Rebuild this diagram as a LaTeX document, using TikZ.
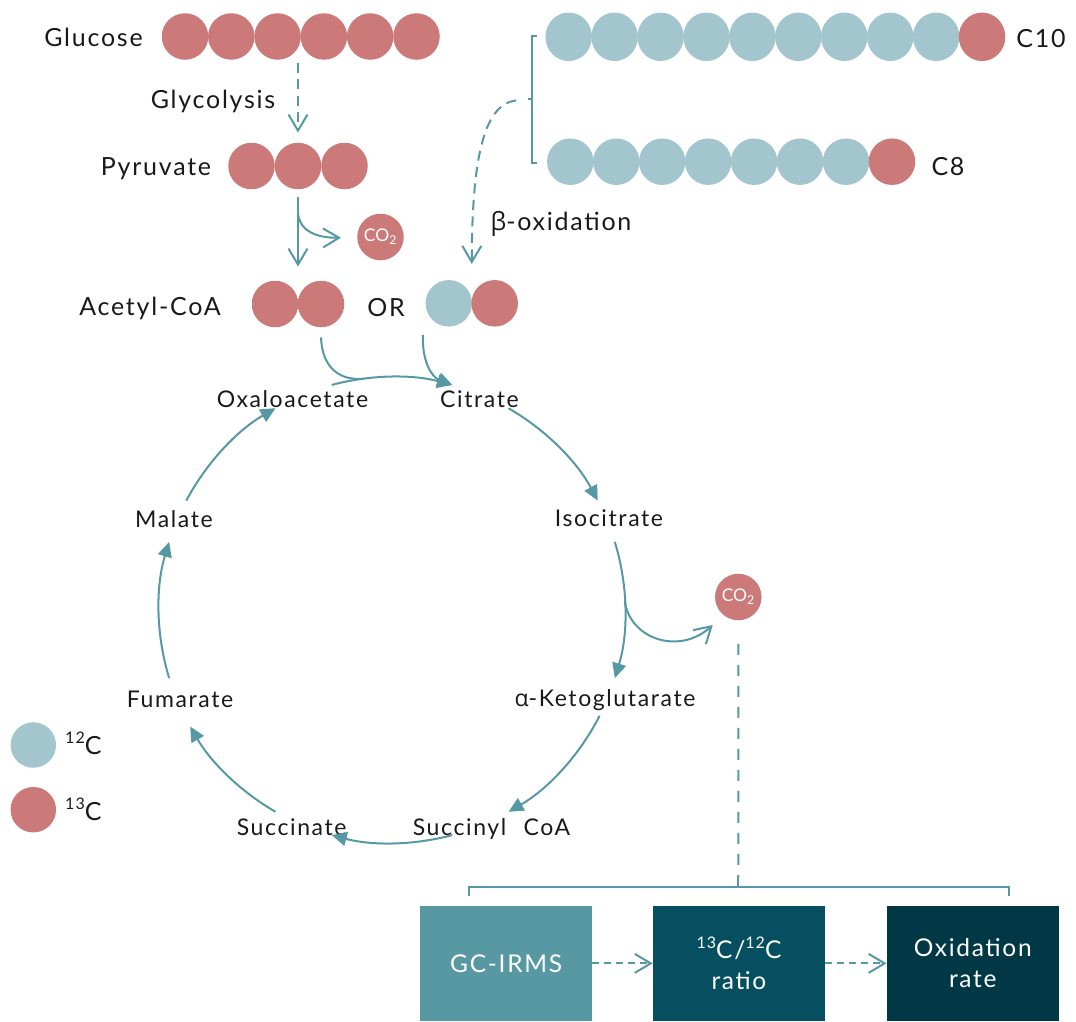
\documentclass[tikz,border=0pt]{standalone}
\usepackage{fontspec}
\setmainfont{Lato}[LetterSpace=7]
\newfontfamily\plainf{Lato}
\newfontfamily\grkf{Open Sans}[LetterSpace=5]
\usetikzlibrary{arrows.meta,shapes.geometric,calc}
\definecolor{atomred}{RGB}{204,121,121}
\definecolor{atomblue}{RGB}{163,197,205}
\definecolor{linec}{RGB}{86,153,164}
\definecolor{boxa}{RGB}{87,152,163}
\definecolor{boxb}{RGB}{5,79,96}
\definecolor{boxc}{RGB}{0,57,69}
\definecolor{txtc}{RGB}{25,25,25}
\newcommand\fbig{\fontsize{25}{30}\selectfont}
\newcommand\fcyc{\fontsize{23}{28}\selectfont}
\newcommand\fbx{\fontsize{24.5}{31}\selectfont}
\newcommand\supnum[1]{\raisebox{0.42em}{\fontsize{16}{16}\selectfont #1}}
\begin{document}
\begin{tikzpicture}[x=1pt,y=-1pt,
  redatom/.style={circle,fill=atomred,minimum size=46.5pt,inner sep=0pt},
  blueatom/.style={circle,fill=atomblue,minimum size=46.5pt,inner sep=0pt},
  tallatom/.style={ellipse,minimum width=46.5pt,minimum height=48.5pt},
  lbl/.style={font=\fbig,text=txtc,inner sep=0pt,anchor=base},
  cyc/.style={font=\fcyc,text=txtc,inner sep=0pt,anchor=base},
  flow/.style={draw=linec,line width=2pt},
  dshA/.style={dash pattern=on 10pt off 6.5pt},
  dshB/.style={dash pattern=on 11pt off 10pt},
  dshC/.style={dash pattern=on 7pt off 5pt},
  barb/.style={-{Straight Barb[length=16pt,width=19pt]}},
  tri/.style={-{Triangle[length=15pt,width=14pt]}},
  procbox/.style={minimum width=172pt,minimum height=115.3pt,inner sep=0pt,text=white,font=\fbx,align=center},
  co2/.style={redatom,text=white,font=\plainf\fontsize{17.5}{17.5}\selectfont}]
\useasboundingbox (0,0) rectangle (1076,1021);
\coordinate (cc) at (392,610);

% ---- atoms
\foreach \i in {0,...,5} \node[redatom] (g\i) at ({185+46.3*\i},36.5) {};
\foreach \i in {0,1,2} \node[redatom] (py\i) at ({251.5+46.5*\i},166) {};
\node[redatom] (ac0) at (275,304) {};
\node[redatom] (ac1) at (321,304) {};
\node[blueatom] (bp0) at (448.8,303.3) {};
\node[redatom] (bp1) at (494.7,303.3) {};
\foreach \i in {0,...,8} \node[blueatom,tallatom] (ca\i) at ({568.7+45.93*\i},36.8) {};
\node[redatom,tallatom] (ca9) at ({568.7+45.93*9},36.8) {};
\foreach \i in {0,...,6} \node[blueatom] (cb\i) at ({570.3+45.96*\i},161.7) {};
\node[redatom] (cb7) at ({570.3+45.96*7},161.7) {};
\node[co2] (co2a) at (380.5,237) {CO\textsubscript{2}};
\node[co2] (co2b) at (738.3,597) {CO\textsubscript{2}};
\node[blueatom,minimum size=45.5pt] (leg12) at (33.3,745) {};
\node[redatom,minimum size=45.5pt] (leg13) at (33.3,809.7) {};

% ---- labels
\node[lbl] (tglu) at (93.5,46.7) {Glucose};
\node[lbl] (tgly) at (213,108.3) {Glycolysis};
\node[lbl] (tpyr) at (156,175.7) {Pyruvate};
\node[lbl] (tacc) at (150,315) {Acetyl-CoA};
\node[lbl] (tor) at (386,316) {OR};
\node[lbl] (tbox) at (561,230) {{\grkf β}-oxidation};
\node[lbl] (tc10) at (1041,47.3) {C10};
\node[lbl] (tc8) at (948,175) {C8};
\node[cyc] (oxa) at (292.5,407.7) {Oxaloacetate};
\node[cyc] (cit) at (479.5,407.7) {Citrate};
\node[cyc] (iso) at (609,526.7) {Isocitrate};
\node[cyc] (akg) at (605,706) {{\grkf α}-Ketoglutarate};
\node[cyc] (sco) at (491.5,835) {Succinyl\hspace{0.75em}CoA};
\node[cyc] (suc) at (291.7,835) {Succinate};
\node[cyc] (fum) at (180,707) {Fumarate};
\node[cyc] (mal) at (174,527.3) {Malate};
\node[lbl,anchor=base west] (t12) at (65,754.3) {\supnum{12}C};
\node[lbl,anchor=base west] (t13) at (65,820) {\supnum{13}C};

% ---- top arrows
\draw[flow,dshA,barb,shorten <=3pt,shorten >=10pt] (py1 |- g0.south) -- (py1.north);
\draw[flow,barb,shorten <=8pt,shorten >=14pt] (py1.south) -- (py1 |- ac0.north);
\path (py1.south) ++(0,24) coordinate (brP);
\coordinate (co2aTip) at ($(co2a)+(-39.5,0.7)$);
\draw[flow,barb] (brP) .. controls (300,232) and (318,238) .. (co2aTip);

% bracket for fatty acids
\draw[flow] (536.7,35.7) -- (532.3,35.7) -- (532.3,163.3) -- (536.7,163.3);
\draw[flow] (532.3,99.3) -- (528,99.3) coordinate (brkM);
\coordinate (bpTop) at ($(bp0.north)!.5!(bp1.north)+(0,-16)$);
\draw[flow,dshA,barb,shorten <=12pt] (brkM) .. controls (482,104) and (472,165) .. (bpTop);

% ---- TCA cycle
\foreach \a/\b in {-105/-75,-60/-28,-17/17,27/60,75/105,120/150,163/197,208/240}
  \draw[flow,tri] (cc) ++(\a:233) arc[start angle=\a,end angle=\b,radius=233];
\coordinate (join) at ($(cc)+(-97:233)$);
\draw[flow] ($(ac1.south)+(0,10)$) .. controls (322,365) and (337,381) .. (join);
\coordinate (citTip) at ($(cc)+(-75:233)$);
\draw[flow,tri] ($(bp0.south)+(-26,8)$) .. controls (422,362) and (432,377) .. (citTip);

% isocitrate -> CO2 branch
\coordinate (isoBr) at ($(cc)+(-2:233)$);
\coordinate (co2bTip) at ($(co2b)+(-25.6,28)$);
\draw[flow,barb] (isoBr) .. controls (631,640) and (680,655) .. (co2bTip);

% ---- analysis
\node[procbox,fill=boxa] (b1) at (506.15,963.35) {GC-IRMS};
\node[procbox,fill=boxb] (b2) at (738.95,963.35) {\supnum{13}C/\supnum{12}C\\ratio};
\node[procbox,fill=boxc] (b3) at (972.8,963.35) {Oxidation\\rate};
\coordinate (brkTop) at (738.4,877);
\draw[flow,dshB,shorten <=23.5pt] (co2b.south) -- (brkTop);
\draw[flow] (469,896) -- (469,886.7) -- (1009,886.7) -- (1009,896);
\draw[flow] (brkTop) -- (738.4,886.7);
\draw[flow,dshC,barb] (b1.east) -- (b2.west);
\draw[flow,dshC,barb] (b2.east) -- (b3.west);
\end{tikzpicture}
\end{document}
